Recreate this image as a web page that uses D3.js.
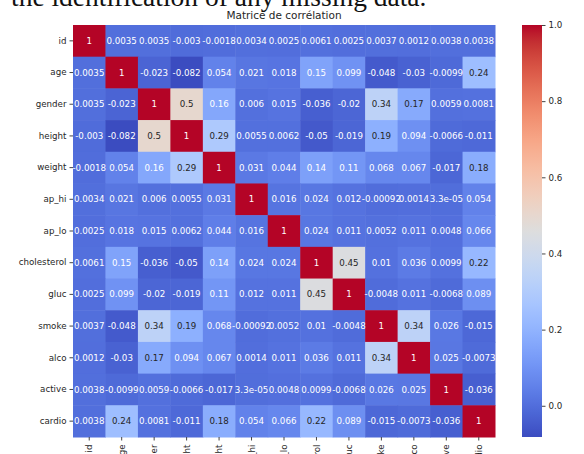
<!DOCTYPE html>
<html>
<head>
<meta charset="utf-8">
<script src="https://cdn.jsdelivr.net/npm/d3@7"></script>
<style>
  body { margin: 0; background: #fff; overflow: hidden; }
  svg { display: block; }
</style>
</head>
<body>
<div id="chart"></div>
<script>
// Variables of the correlation matrix (rows and columns in the same order)
const labels = ["id", "age", "gender", "height", "weight", "ap_hi", "ap_lo",
  "cholesterol", "gluc", "smoke", "alco", "active", "cardio"];

// One row per variable
const rowId          = [1, 0.0035, 0.0035, -0.003, -0.0018, 0.0034, 0.0025, 0.0061, 0.0025, 0.0037, 0.0012, 0.0038, 0.0038];
const rowAge         = [0.0035, 1, -0.023, -0.082, 0.054, 0.021, 0.018, 0.15, 0.099, -0.048, -0.03, -0.0099, 0.24];
const rowGender      = [0.0035, -0.023, 1, 0.5, 0.16, 0.006, 0.015, -0.036, -0.02, 0.34, 0.17, 0.0059, 0.0081];
const rowHeight      = [-0.003, -0.082, 0.5, 1, 0.29, 0.0055, 0.0062, -0.05, -0.019, 0.19, 0.094, -0.0066, -0.011];
const rowWeight      = [-0.0018, 0.054, 0.16, 0.29, 1, 0.031, 0.044, 0.14, 0.11, 0.068, 0.067, -0.017, 0.18];
const rowApHi        = [0.0034, 0.021, 0.006, 0.0055, 0.031, 1, 0.016, 0.024, 0.012, -0.00092, 0.0014, 3.3e-05, 0.054];
const rowApLo        = [0.0025, 0.018, 0.015, 0.0062, 0.044, 0.016, 1, 0.024, 0.011, 0.0052, 0.011, 0.0048, 0.066];
const rowCholesterol = [0.0061, 0.15, -0.036, -0.05, 0.14, 0.024, 0.024, 1, 0.45, 0.01, 0.036, 0.0099, 0.22];
const rowGluc        = [0.0025, 0.099, -0.02, -0.019, 0.11, 0.012, 0.011, 0.45, 1, -0.0048, 0.011, -0.0068, 0.089];
const rowSmoke       = [0.0037, -0.048, 0.34, 0.19, 0.068, -0.00092, 0.0052, 0.01, -0.0048, 1, 0.34, 0.026, -0.015];
const rowAlco        = [0.0012, -0.03, 0.17, 0.094, 0.067, 0.0014, 0.011, 0.036, 0.011, 0.34, 1, 0.025, -0.0073];
const rowActive      = [0.0038, -0.0099, 0.0059, -0.0066, -0.017, 3.3e-05, 0.0048, 0.0099, -0.0068, 0.026, 0.025, 1, -0.036];
const rowCardio      = [0.0038, 0.24, 0.0081, -0.011, 0.18, 0.054, 0.066, 0.22, 0.089, -0.015, -0.0073, -0.036, 1];

const matrix = [rowId, rowAge, rowGender, rowHeight, rowWeight, rowApHi, rowApLo,
  rowCholesterol, rowGluc, rowSmoke, rowAlco, rowActive, rowCardio];

const colorbarTicks = [0.0, 0.2, 0.4, 0.6, 0.8, 1.0];

// matplotlib "coolwarm" (Moreland diverging map), evenly spaced control colours
const coolwarmStops = [
  "#3b4cc0", "#445acc", "#4d68d7", "#5775e1", "#6282ea", "#6c8ef1", "#779af7", "#82a5fb",
  "#8db0fe", "#98b9ff", "#a3c2ff", "#aec9fd", "#b8d0f9", "#c2d5f4", "#ccd9ee", "#d5dbe6",
  "#dddddd", "#e5d8d1", "#ecd3c5", "#f1ccb9", "#f5c4ad", "#f7bba0", "#f7b194", "#f7a687",
  "#f49a7b", "#f18d6f", "#ec7f63", "#e57058", "#de604d", "#d55042", "#cb3e38", "#c0282f",
  "#b40426"
];
const coolwarm = d3.piecewise(d3.interpolateRgb, coolwarmStops);

class HeatMap {

  constructor(_config, _data) {
    this.config = {
      parentElement: _config.parentElement,
      containerWidth: _config.containerWidth,
      containerHeight: _config.containerHeight,
      margin: {top: 25, right: 89, bottom: 17, left: 73},
      colorbar: {x: 522, width: 20}
    }
    this.data = _data;
    this.initVis();
  }

  initVis() {
    let vis = this;

    vis.width = vis.config.containerWidth - vis.config.margin.left - vis.config.margin.right;
    vis.height = vis.config.containerHeight - vis.config.margin.top - vis.config.margin.bottom;

    vis.svg = d3.select(vis.config.parentElement)
      .append('svg')
      .attr('width', vis.config.containerWidth)
      .attr('height', vis.config.containerHeight)
      .style('font-family', '"DejaVu Sans", sans-serif');

    // Cropped caption line of the surrounding document
    vis.svg.append('text')
      .attr('x', 11)
      .attr('y', 5.5)
      .attr('font-family', '"Liberation Serif", serif')
      .attr('font-size', 27.5)
      .attr('fill', '#111')
      .text('the identification of any missing data.');

    vis.chartArea = vis.svg.append('g')
      .attr('transform', `translate(${vis.config.margin.left},${vis.config.margin.top})`);

    vis.xScale = d3.scaleBand().domain(labels).range([0, vis.width]);
    vis.yScale = d3.scaleBand().domain(labels).range([0, vis.height]);

    const allValues = vis.data.flat();
    vis.vmin = d3.min(allValues);
    vis.vmax = d3.max(allValues);
    vis.colorScale = d3.scaleSequential(coolwarm).domain([vis.vmin, vis.vmax]);

    // Python-like ".2g" with an ascii hyphen for minus
    const locale = d3.formatLocale({decimal: '.', thousands: ',', grouping: [3], currency: ['', ''], minus: '-'});
    const fmt2g = locale.format('.2~g');
    vis.formatValue = (v) => {
      if (v !== 0 && Math.abs(v) < 1e-4) {
        const [m, e] = v.toExponential(1).split('e');
        const sign = e[0] === '-' ? '-' : '+';
        const digits = e.replace(/[+-]/, '').padStart(2, '0');
        return `${m}e${sign}${digits}`;
      }
      return fmt2g(v);
    };

    // Title
    vis.svg.append('text')
      .attr('x', vis.config.margin.left + vis.width / 2)
      .attr('y', 19)
      .attr('text-anchor', 'middle')
      .attr('font-size', 10.5)
      .attr('fill', '#262626')
      .text('Matrice de corrélation');

    vis.updateVis();
  }

  updateVis() {
    let vis = this;

    vis.cells = [];
    vis.data.forEach((row, i) => {
      row.forEach((value, j) => {
        vis.cells.push({row: labels[i], col: labels[j], value});
      });
    });

    vis.renderVis();
  }

  // seaborn picks dark or white annotation text from the cell luminance
  textColour(fill) {
    const c = d3.rgb(fill);
    const lin = (u) => {
      u = u / 255;
      return u <= 0.03928 ? u / 12.92 : Math.pow((u + 0.055) / 1.055, 2.4);
    };
    const lum = 0.2126 * lin(c.r) + 0.7152 * lin(c.g) + 0.0722 * lin(c.b);
    return lum > 0.408 ? '#262626' : '#ffffff';
  }

  renderVis() {
    let vis = this;

    vis.chartArea.selectAll('rect.cell')
      .data(vis.cells)
      .join('rect')
      .attr('class', 'cell')
      .attr('x', d => vis.xScale(d.col))
      .attr('y', d => vis.yScale(d.row))
      .attr('width', vis.xScale.bandwidth() + 0.5)
      .attr('height', vis.yScale.bandwidth() + 0.5)
      .attr('fill', d => vis.colorScale(d.value));

    vis.chartArea.selectAll('text.annot')
      .data(vis.cells)
      .join('text')
      .attr('class', 'annot')
      .attr('x', d => vis.xScale(d.col) + vis.xScale.bandwidth() / 2)
      .attr('y', d => vis.yScale(d.row) + vis.yScale.bandwidth() / 2)
      .attr('dy', '0.35em')
      .attr('text-anchor', 'middle')
      .attr('font-size', 8.7)
      .attr('fill', d => vis.textColour(vis.colorScale(d.value)))
      .text(d => vis.formatValue(d.value));

    // Y axis
    const yAxis = d3.axisLeft(vis.yScale).tickSize(3.5).tickPadding(3);
    const yG = vis.chartArea.append('g').call(yAxis);
    yG.select('.domain').remove();
    yG.selectAll('line').attr('stroke', '#444');
    yG.selectAll('text').attr('font-size', 8.7).attr('fill', '#262626')
      .attr('font-family', '"DejaVu Sans", sans-serif');

    // X axis, labels rotated and cut by the page edge
    const xAxis = d3.axisBottom(vis.xScale).tickSize(3.5).tickPadding(3);
    const xG = vis.chartArea.append('g')
      .attr('transform', `translate(0,${vis.height})`)
      .call(xAxis);
    xG.select('.domain').remove();
    xG.selectAll('line').attr('stroke', '#444');
    xG.selectAll('text')
      .attr('font-size', 8.7)
      .attr('fill', '#262626')
      .attr('font-family', '"DejaVu Sans", sans-serif')
      .attr('transform', 'rotate(-90)')
      .attr('x', -7.5)
      .attr('y', 0)
      .attr('dy', '0.35em')
      .attr('text-anchor', 'end');

    vis.renderColorbar();
  }

  renderColorbar() {
    let vis = this;

    const cb = vis.config.colorbar;
    const top = vis.config.margin.top;
    const bottom = vis.config.margin.top + vis.height;

    vis.cbScale = d3.scaleLinear()
      .domain([vis.vmin, vis.vmax])
      .range([bottom, top]);

    const defs = vis.svg.append('defs');
    const grad = defs.append('linearGradient')
      .attr('id', 'cb-grad')
      .attr('x1', 0).attr('y1', 1)
      .attr('x2', 0).attr('y2', 0);

    d3.range(0, 1.0001, 0.02).forEach(t => {
      grad.append('stop')
        .attr('offset', t)
        .attr('stop-color', coolwarm(t));
    });

    vis.svg.append('rect')
      .attr('x', cb.x)
      .attr('y', top)
      .attr('width', cb.width)
      .attr('height', bottom - top)
      .attr('fill', 'url(#cb-grad)');

    const cbAxis = d3.axisRight(vis.cbScale)
      .tickValues(colorbarTicks)
      .tickFormat(d3.format('.1f'))
      .tickSize(3.5)
      .tickPadding(3);

    const cbG = vis.svg.append('g')
      .attr('transform', `translate(${cb.x + cb.width},0)`)
      .call(cbAxis);
    cbG.select('.domain').remove();
    cbG.selectAll('line').attr('stroke', '#444');
    cbG.selectAll('text').attr('font-size', 8.7).attr('fill', '#262626')
      .attr('font-family', '"DejaVu Sans", sans-serif');
  }
}

new HeatMap({
  parentElement: '#chart',
  containerWidth: 584,
  containerHeight: 454
}, matrix);
</script>
</body>
</html>
